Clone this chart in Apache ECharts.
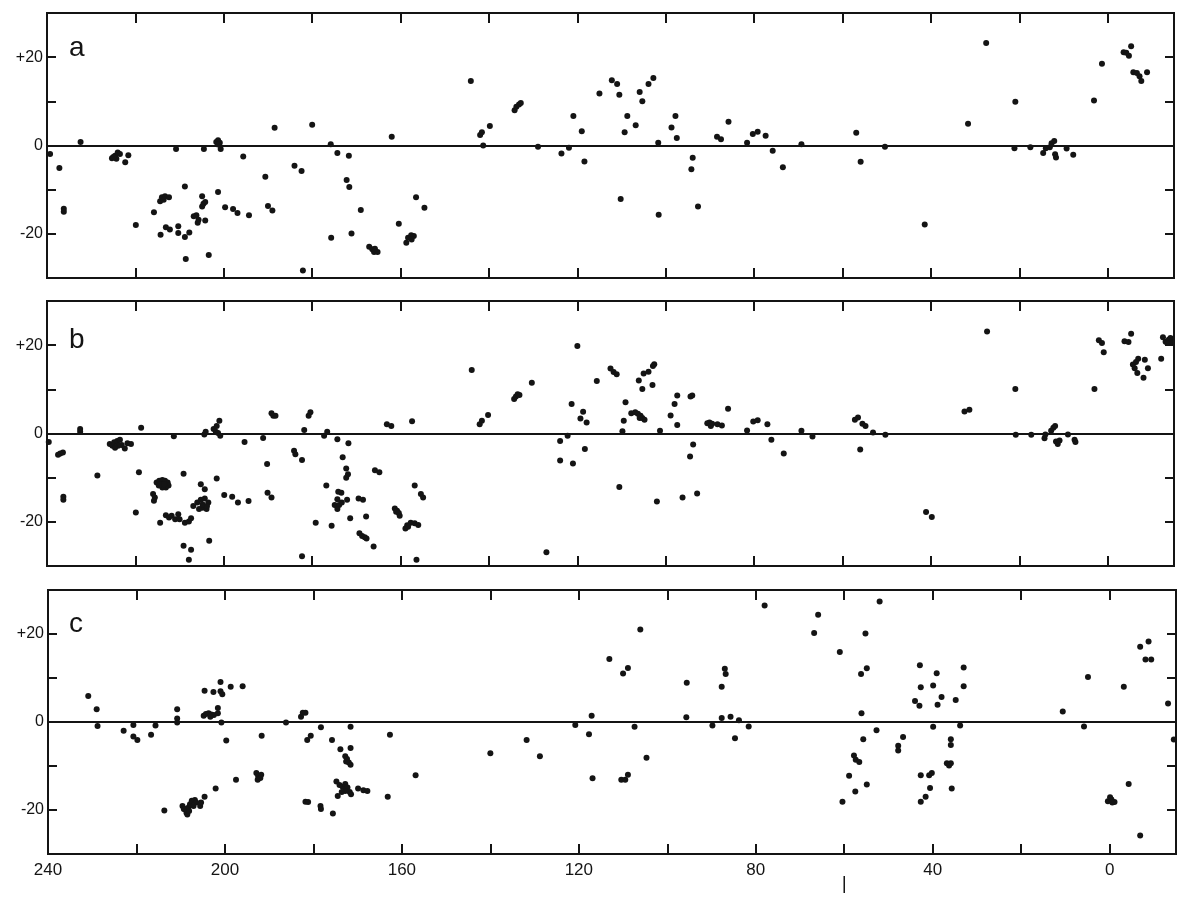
<!DOCTYPE html>
<html><head><meta charset="utf-8">
<script src="https://cdn.jsdelivr.net/npm/echarts@6/dist/echarts.min.js"></script>
<style>html,body{margin:0;padding:0;background:#fff}#c{width:1200px;height:905px}</style>
</head><body><div id="c"></div>
<script>
// galactic longitude, latitude
const panelA = [
[239.3,-1.9],[237.2,-5.1],[236.2,-14.3],[236.2,-15.0],[232.4,0.8],
[225.3,-2.9],[224.6,-2.3],[224.0,-1.6],[223.5,-1.9],[224.3,-3.0],[225.0,-2.6],
[222.3,-3.8],[221.6,-2.2],[219.9,-18.0],[215.8,-15.1],
[214.4,-12.6],[214.0,-11.7],[213.3,-11.5],[212.4,-11.7],[213.6,-12.3],
[214.3,-20.2],[213.1,-18.5],[212.2,-19.0],[210.8,-0.8],[210.3,-18.3],[210.3,-19.8],
[208.8,-9.3],[208.8,-20.7],[208.6,-25.7],[207.8,-19.7],
[206.8,-16.0],[206.2,-15.8],[205.7,-16.8],[205.9,-17.5],
[204.9,-11.5],[204.9,-13.8],[204.6,-13.2],[204.2,-12.8],[204.2,-17.0],[204.5,-0.8],[203.4,-24.8],
[201.7,0.8],[201.3,1.2],[200.9,0.6],[200.7,-0.8],[201.3,0.2],
[201.3,-10.5],[199.7,-14.0],[197.9,-14.4],[196.9,-15.3],[195.6,-2.5],[194.3,-15.8],
[190.6,-7.1],[190.0,-13.7],[189.0,-14.7],[188.5,4.0],[184.0,-4.6],[182.4,-5.8],[182.1,-28.3],
[180.0,4.7],[175.8,0.3],[175.7,-20.9],[174.3,-1.7],[172.2,-7.8],[171.7,-2.3],[171.6,-9.4],[171.1,-19.9],
[169.0,-14.6],[167.1,-22.9],[166.4,-23.5],[166.0,-24.1],[165.2,-24.1],[165.8,-23.4],
[162.0,2.0],[160.4,-17.7],[158.7,-22.0],[158.3,-20.9],[157.6,-20.3],[157.0,-20.5],[157.5,-21.3],
[156.5,-11.7],[154.6,-14.1],[144.1,14.6],[142.0,2.4],[141.6,3.0],[141.3,0.0],[139.8,4.4],
[134.2,8.0],[133.8,8.8],[133.2,9.3],[132.8,9.6],[128.9,-0.3],[123.6,-1.8],[121.9,-0.5],[120.9,6.7],
[119.0,3.2],[118.4,-3.6],[115.0,11.8],
[112.2,14.8],[111.0,13.9],[110.5,11.5],[110.2,-12.1],[109.3,3.0],[108.7,6.7],[106.8,4.6],[105.9,12.1],
[105.3,10.0],[103.9,13.9],[102.8,15.3],[101.7,0.6],[101.6,-15.7],[98.7,4.1],[97.8,6.7],[97.5,1.7],
[93.9,-2.8],[94.2,-5.4],[92.7,-13.8],[88.4,2.0],[87.5,1.4],[85.8,5.4],[81.6,0.6],[80.3,2.6],[79.2,3.1],
[77.4,2.2],[75.8,-1.2],[73.5,-4.9],[69.3,0.3],[56.9,2.9],[55.9,-3.7],[50.4,-0.3],[41.4,-17.9],
[31.6,4.9],[27.5,23.2],[21.1,-0.6],[20.9,9.9],[17.5,-0.4],[14.6,-1.7],[14.0,-0.6],[13.1,-0.4],
[12.7,0.5],[12.1,1.0],[11.9,-2.0],[11.7,-2.7],[9.3,-0.7],[7.8,-2.1],[3.1,10.2],[1.3,18.5],
[-3.6,21.1],[-4.2,21.0],[-4.8,20.3],[-5.3,22.5],[-5.8,16.6],[-6.6,16.4],[-7.2,15.7],[-7.6,14.6],[-8.9,16.6]
];
const panelB = [
[239.6,-1.9],[237.5,-4.8],[237.0,-4.5],[236.4,-4.3],[236.3,-14.3],[236.3,-15.0],[232.5,1.0],[232.5,0.4],
[228.6,-9.5],
[225.8,-2.4],[225.2,-2.8],[224.8,-2.0],[224.1,-1.7],[223.5,-1.4],[223.1,-2.6],[222.4,-3.4],[221.8,-2.2],
[221.0,-2.4],[223.9,-2.8],[224.6,-3.2],
[219.2,-8.8],[218.7,1.3],[219.9,-17.9],
[215.2,-11.1],[214.6,-10.7],[213.9,-10.5],[213.3,-10.7],[212.7,-11.1],[212.5,-11.8],[213.1,-12.2],
[213.9,-12.2],[214.7,-11.8],[214.3,-11.5],[213.5,-11.5],
[216.0,-13.7],[215.6,-14.5],[215.8,-15.2],[214.4,-20.2],
[213.1,-18.5],[212.4,-19.0],[211.8,-18.6],[211.0,-19.4],[210.3,-18.3],[210.0,-19.4],
[211.3,-0.6],[209.1,-9.1],[209.1,-25.4],[207.4,-26.3],[207.9,-28.6],
[208.8,-20.2],[207.9,-19.9],[207.4,-19.2],[206.9,-16.4],
[206.0,-15.6],[205.2,-15.0],[204.3,-14.7],[203.5,-15.6],[204.8,-16.8],[203.9,-17.1],[205.6,-17.1],
[204.3,-12.6],[205.2,-11.5],[204.8,-16.1],[203.8,-16.4],
[203.3,-24.3],
[204.4,-0.2],[204.1,0.4],[202.3,1.0],[201.8,0.4],[201.3,0.1],[201.0,2.9],[200.8,-0.5],[201.6,1.7],
[201.6,-10.2],[199.9,-13.9],[198.1,-14.3],[196.8,-15.6],[195.3,-1.9],[194.4,-15.3],
[191.1,-1.0],[190.2,-6.9],[190.1,-13.4],[189.2,-14.5],[189.2,4.6],[188.8,4.0],[188.3,4.0],
[184.1,-3.9],[183.8,-4.7],[182.3,-6.0],[182.3,-27.8],[181.8,0.8],[180.8,4.0],[180.4,4.8],
[179.2,-20.2],[177.3,-0.5],[176.6,0.4],[176.8,-11.8],[175.6,-20.9],[174.3,-1.3],[171.8,-2.2],
[173.1,-5.4],[172.3,-7.9],[171.9,-9.2],[172.3,-10.0],
[174.1,-13.2],[173.4,-13.4],[174.3,-14.9],[174.9,-16.2],[173.9,-16.2],[174.3,-17.1],[173.3,-15.6],
[172.1,-15.0],[171.4,-19.2],[169.5,-14.7],[168.5,-15.0],[167.8,-18.8],
[169.3,-22.6],[168.7,-23.2],[168.1,-23.5],[167.7,-23.8],[166.1,-25.6],[165.8,-8.3],[164.8,-8.8],
[163.1,2.1],[162.1,1.7],
[161.3,-17.0],[160.8,-17.5],[160.4,-18.0],[160.2,-18.6],[161.0,-17.7],
[158.9,-21.5],[158.5,-20.8],[157.7,-20.2],[156.8,-20.3],[156.0,-20.7],[158.3,-21.1],
[157.4,2.8],[156.8,-11.8],[156.4,-28.6],[155.4,-13.7],[154.9,-14.5],
[143.9,14.4],[142.1,2.1],[141.6,2.9],[140.2,4.2],
[134.3,7.8],[133.9,8.4],[133.5,8.9],[133.1,8.7],[130.3,11.5],[127.0,-26.9],
[123.9,-1.7],[123.9,-6.1],[122.2,-0.5],[121.3,6.7],[121.0,-6.8],[120.0,19.8],
[119.3,3.4],[118.7,4.9],[117.9,2.5],[118.3,-3.5],[115.6,11.9],
[112.5,14.7],[111.8,13.9],[111.1,13.4],[110.5,-12.1],[109.8,0.5],[109.5,2.9],[109.1,7.1],
[107.8,4.6],[106.9,4.8],[106.3,4.5],[105.7,4.0],[105.3,3.5],[104.8,3.1],[105.9,3.5],
[106.1,12.0],[105.3,10.1],[105.0,13.6],[103.9,14.0],[103.0,11.0],[102.9,15.3],[102.6,15.7],
[102.0,-15.4],[101.3,0.6],[98.9,4.1],[98.0,6.7],[97.4,8.6],[97.4,1.9],[96.2,-14.5],
[94.4,8.4],[94.0,8.6],[93.8,-2.5],[94.5,-5.2],[92.9,-13.6],
[90.6,2.3],[90.1,2.5],[89.8,1.7],[89.5,2.2],[88.3,2.1],[87.3,1.8],[85.9,5.6],
[81.6,0.7],[80.2,2.7],[79.2,3.0],[77.0,2.1],[76.1,-1.4],[73.3,-4.5],[69.3,0.6],[66.8,-0.7],
[57.2,3.1],[56.5,3.6],[55.5,2.2],[54.8,1.7],[56.0,-3.6],[53.1,0.2],[50.3,-0.3],
[41.1,-17.8],[39.8,-18.9],[32.4,5.0],[31.3,5.4],[27.3,23.1],[20.9,10.1],[20.8,-0.3],[17.3,-0.3],
[14.3,-1.1],[14.1,-0.2],[12.8,0.6],[12.3,1.3],[11.9,1.7],[11.7,-1.8],[11.3,-2.4],[10.9,-1.6],
[9.0,-0.2],[7.5,-1.4],[7.3,-1.9],[3.0,10.1],[2.0,21.1],[1.3,20.5],[0.9,18.4],
[-3.8,20.9],[-4.7,20.7],[-5.3,22.6],[-5.7,15.6],[-6.1,14.8],[-6.7,13.7],[-8.1,12.6],[-6.9,16.9],
[-8.4,16.7],[-9.1,14.8],[-6.4,16.2],[-12.1,16.9],
[-12.5,21.8],[-13.1,20.8],[-13.8,21.2],[-14.4,20.8],[-13.5,20.5],[-14.2,21.6]
];
const panelC = [
[230.9,5.9],[229.0,2.9],[228.8,-0.9],[222.9,-2.0],[220.7,-0.7],[220.7,-3.3],[219.8,-4.1],
[216.7,-2.9],[215.7,-0.8],[213.7,-20.1],[210.8,2.9],[210.8,0.8],[210.8,-0.1],
[209.6,-19.1],[209.1,-19.8],[208.7,-20.6],[208.3,-19.5],[207.9,-18.7],[207.5,-17.9],[206.8,-17.7],
[206.5,-18.3],[205.6,-19.1],[205.4,-18.3],[204.6,-17.0],[208.5,-21.0],[209.3,-19.8],[208.1,-20.2],[207.1,-19.1],
[204.6,7.1],[204.8,1.4],[204.3,1.8],[203.7,2.0],[203.1,1.7],[202.5,1.6],[201.6,2.0],[203.3,1.2],
[202.6,6.8],[202.1,-15.1],[201.6,3.2],[201.0,9.1],[201.0,7.0],[200.6,6.3],[200.8,-0.1],[199.7,-4.2],
[198.7,8.0],[197.5,-13.1],[196.0,8.1],
[192.9,-11.6],[192.5,-12.3],[192.0,-12.7],[192.6,-13.1],[191.8,-12.0],[191.7,-3.1],[186.2,-0.1],
[182.8,1.2],[182.4,2.1],[181.8,2.1],[181.8,-18.1],[181.2,-18.2],[181.4,-4.1],[180.6,-3.1],
[178.4,-19.1],[178.3,-19.8],[178.3,-1.2],[175.8,-4.1],[175.6,-20.8],[173.9,-6.2],[171.6,-5.9],[171.6,-1.1],
[172.8,-7.8],[172.4,-8.4],[172.0,-9.2],[171.6,-9.7],[172.6,-9.0],
[174.8,-13.5],[174.1,-14.3],[173.4,-14.7],[172.8,-14.1],[172.3,-14.9],[171.8,-15.9],[172.8,-15.7],
[173.6,-15.9],[169.9,-15.1],[168.7,-15.5],[167.8,-15.7],[171.5,-16.4],[174.5,-16.8],
[163.2,-17.0],[162.7,-2.9],[156.9,-12.1],[140.0,-7.1],[131.8,-4.1],[128.8,-7.8],
[120.8,-0.7],[117.7,-2.8],[117.1,1.4],[116.9,-12.8],
[113.1,14.3],[110.0,11.0],[108.9,12.3],[107.4,-1.1],[106.1,21.0],[104.7,-8.1],
[110.4,-13.1],[109.5,-13.1],[108.9,-12.0],[95.6,8.9],[95.7,1.1],[89.8,-0.8],[87.7,0.9],[87.7,8.0],
[87.0,12.1],[86.8,10.9],[85.7,1.2],[83.8,0.4],[84.7,-3.7],[81.6,-1.0],[78.0,26.5],
[66.8,20.2],[65.9,24.4],[61.0,15.9],[60.4,-18.1],[58.9,-12.2],[57.8,-7.6],[57.4,-8.6],[56.6,-9.1],
[57.5,-15.8],[56.2,10.9],[54.9,12.2],[56.1,2.0],[55.7,-3.9],[55.2,20.1],[54.9,-14.2],[52.7,-1.9],[52.0,27.4],
[47.8,-5.4],[47.8,-6.5],[46.7,-3.4],[44.0,4.8],[43.0,3.7],[42.9,12.9],[42.7,7.9],[42.7,-12.1],
[42.7,-18.1],[41.6,-17.0],[40.8,-12.1],[40.2,-11.6],[40.6,-15.0],[39.9,8.3],[39.9,-1.1],[39.1,11.1],
[38.9,3.9],[38.0,5.7],[36.8,-9.4],[35.9,-9.4],[36.3,-9.9],[35.9,-3.9],[35.9,-5.2],[35.7,-15.1],
[34.8,5.0],[33.8,-0.8],[33.0,12.4],[33.0,8.1],
[10.6,2.4],[5.8,-1.0],[4.9,10.2],[0.4,-18.0],[-0.4,-17.6],[-1.1,-18.2],[-0.1,-17.1],[-0.6,-18.3],
[-3.2,8.0],[-4.3,-14.1],[-6.9,-25.8],[-6.9,17.1],[-8.8,18.3],[-8.1,14.2],[-9.4,14.2],[-13.2,4.2],[-14.5,-4.0]
];
const panelData = [panelA, panelB, panelC];
const panelNames = ['a', 'b', 'c'];
const lonMin = -15, lonMax = 240;
const latMin = -30, latMax = 30;
const xTickValues = [0, 20, 40, 60, 80, 100, 120, 140, 160, 180, 200, 220, 240];
const xLabelValues = [240, 200, 160, 120, 80, 40, 0];
const yTickValues = [-20, -10, 10, 20];
const yLabelValues = [-20, 0, 20];
const markerLon = 60;

const INK = '#141414';
const FONT = 'Liberation Sans';
const gridBoxes = [
  {left: 47, top: 13, width: 1127, height: 265},
  {left: 47, top: 301, width: 1127, height: 265},
  {left: 48, top: 590, width: 1128, height: 264}
];
const letterY = [48, 340, 624];

const chart = echarts.init(document.getElementById('c'));
const grid = [], xAxis = [], yAxis = [], series = [], graphic = [];
gridBoxes.forEach((g, i) => {
  grid.push(Object.assign({show: true, borderColor: INK, borderWidth: 2, backgroundColor: 'transparent'}, g));
  ['bottom', 'top'].forEach(pos => {
    xAxis.push({
      gridIndex: i, type: 'value', position: pos, min: lonMin, max: lonMax, inverse: true,
      axisLine: {show: false, onZero: false}, splitLine: {show: false},
      axisTick: {show: true, inside: true, length: 10, customValues: xTickValues, lineStyle: {color: INK, width: 2}},
      axisLabel: {show: (i === 2 && pos === 'bottom'), customValues: xLabelValues, fontSize: 17, color: INK, margin: 8, fontFamily: FONT}
    });
  });
  ['left', 'right'].forEach(pos => {
    yAxis.push({
      gridIndex: i, type: 'value', position: pos, min: latMin, max: latMax, interval: 10,
      axisLine: {show: false, onZero: false}, splitLine: {show: false},
      axisTick: {show: true, inside: true, length: 9, customValues: yTickValues, lineStyle: {color: INK, width: 2}},
      axisLabel: {show: pos === 'left', customValues: yLabelValues, fontSize: 16, color: INK, margin: 4, fontFamily: FONT,
        formatter: v => (v > 0 ? '+' + v : String(v))}
    });
  });
  series.push({
    type: 'scatter', xAxisIndex: 2 * i, yAxisIndex: 2 * i, data: panelData[i],
    symbolSize: 6, itemStyle: {color: INK, opacity: 1}, silent: true,
    markLine: {silent: true, symbol: ['none', 'none'], label: {show: false},
      lineStyle: {color: INK, width: 2, type: 'solid'}, data: [{yAxis: 0}]}
  });
  graphic.push({type: 'text', x: 69, y: letterY[i],
    style: {text: panelNames[i], fontSize: 28, fill: INK, fontFamily: FONT, verticalAlign: 'middle'}});
});

chart.setOption({animation: false, backgroundColor: '#fff', grid, xAxis, yAxis, series, graphic});
const mx = chart.convertToPixel({xAxisIndex: 4}, markerLon);
graphic.push({type: 'line', shape: {x1: mx, y1: 876, x2: mx, y2: 893}, style: {stroke: INK, lineWidth: 1.5}});
chart.setOption({graphic});
</script>
</body></html>
